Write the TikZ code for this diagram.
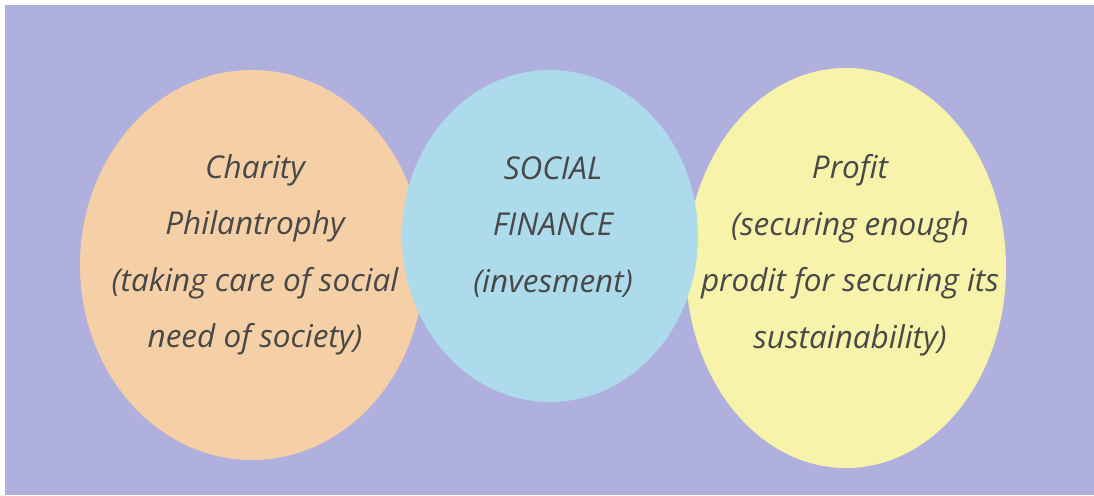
\documentclass[tikz,border=0pt]{standalone}
\usepackage{fontspec}
\setmainfont{Open Sans}
\usepackage{tikz}
\usetikzlibrary{shapes.geometric,positioning}
\usepackage{xcolor}
\definecolor{sfback}{RGB}{175,176,221}
\definecolor{sforange}{RGB}{245,207,166}
\definecolor{sfblue}{RGB}{173,219,236}
\definecolor{sfyellow}{RGB}{248,243,170}
\definecolor{sftext}{RGB}{72,72,72}
\tikzset{
    oval/.style={ellipse, draw=none, inner sep=0pt},
    ovalO/.style={oval, fill=sforange},
    ovalB/.style={oval, fill=sfblue},
    ovalY/.style={oval, fill=sfyellow},
    ovaltext/.style={align=center, text=sftext, inner sep=0pt, font=\fontsize{31.5}{56.5}\selectfont\itshape},
}

\begin{document}
\begin{tikzpicture}[x=1pt, y=-1pt]
    % Canvas
    \useasboundingbox (0,0) rectangle (1094,495);
    \fill[white] (0,0) rectangle (1094,495);
    \fill[sfback] (5,5) rectangle (1094,495);
    % Ovals (blue one on top)
    \node[ovalO, minimum width=344pt, minimum height=390pt] (charity) at (252,265) {};
    \node[ovalY, minimum width=320pt, minimum height=400pt] (profit) at (846,268) {};
    \node[ovalB, minimum width=296pt, minimum height=332pt] (social) at (550,236) {};
    % Texts
    \node[ovaltext] (charitytext) at (255,255) {Charity\\Philantrophy\\(taking care of social\\need of society)};
    \node[ovaltext] (socialtext) at (553,227) {SOCIAL\\FINANCE\\(invesment)};
    \node[ovaltext] (profittext) at (850,255) {Profit\\(securing enough\\prodit for securing its\\sustainability)};
\end{tikzpicture}
\end{document}
